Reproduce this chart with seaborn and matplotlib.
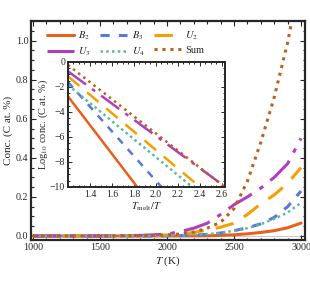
import matplotlib
matplotlib.use("Agg")
import matplotlib.pyplot as plt
from matplotlib.ticker import MultipleLocator
import seaborn as sns
import pandas as pd

# main panel: concentration (C at. %) read at these temperatures
temps = [1000, 1500, 1800, 1900, 2000, 2100, 2200, 2300, 2400, 2500, 2600, 2700, 2800, 2900, 3000]
conc_b2 = [0, 0, 0, 0, 0, 0.0002, 0.0005, 0.001, 0.003, 0.006, 0.011, 0.018, 0.027, 0.042, 0.066]
conc_b3 = [0, 0, 0, 0.0005, 0.001, 0.002, 0.004, 0.008, 0.015, 0.027, 0.042, 0.062, 0.095, 0.15, 0.23]
conc_u2 = [0, 0, 0.001, 0.003, 0.005, 0.01, 0.018, 0.03, 0.045, 0.065, 0.11, 0.165, 0.21, 0.27, 0.35]
conc_u3 = [0, 0, 0.003, 0.006, 0.01, 0.022, 0.04, 0.065, 0.11, 0.16, 0.2, 0.245, 0.3, 0.37, 0.5]
conc_u4 = [0, 0, 0.0005, 0.001, 0.002, 0.004, 0.006, 0.009, 0.016, 0.026, 0.04, 0.06, 0.088, 0.12, 0.17]
conc_sum = [0, 0, 0.002, 0.003, 0.005, 0.01, 0.02, 0.04, 0.07, 0.14, 0.28, 0.48, 0.71, 0.99, 1.35]

# inset: log10 conc vs Tmelt/T, straight lines given by their end points
inset_b2 = ([1.2, 1.83], [-2.75, -10])
inset_b3 = ([1.2, 2.05], [-1.6, -10])
inset_u2 = ([1.2, 2.4], [-1.15, -10])
inset_u3 = ([1.2, 2.6], [-0.75, -9.8])
inset_u4 = ([1.2, 2.33], [-1.85, -10])
inset_sum = ([1.2, 2.625], [-0.25, -10])

names = ["$B_2$", "$B_3$", "$U_2$", "$U_3$", "$U_4$", "Sum"]
colors = ["#e8601c", "#5a78d6", "#f5a000", "#b03fc0", "#5cb8a0", "#b8621a"]
styles = ["-", (0, (3, 3)), (0, (6, 4)), (0, (9, 3, 1.5, 3)), (0, (1, 1.3)), (0, (1, 1.6))]

sns.set_style("ticks")
plt.rcParams["font.family"] = ["Liberation Serif", "DejaVu Serif"]
plt.rcParams["mathtext.fontset"] = "stix"
plt.rcParams["xtick.direction"] = "in"
plt.rcParams["ytick.direction"] = "in"

fig = plt.figure(figsize=(3.1, 2.89), dpi=100)
ax = fig.add_axes([0.1, 0.170, 0.884, 0.757])

main_series = [conc_b2, conc_b3, conc_u2, conc_u3, conc_u4, conc_sum]
ax.axhline(0, color="#cccccc", lw=0.8, zorder=0)
for vals, name, col, ls in zip(main_series, names, colors, styles):
    df = pd.DataFrame({"T": temps, "c": vals})
    lw = 2.2 if name != "$U_4$" else 1.8
    sns.lineplot(data=df, x="T", y="c", ax=ax, color=col, linestyle=ls, lw=lw, label=name)

ax.set_xlim(985, 3030)
ax.set_ylim(-0.02, 1.1)
ax.xaxis.set_major_locator(MultipleLocator(500))
ax.xaxis.set_minor_locator(MultipleLocator(100))
ax.yaxis.set_major_locator(MultipleLocator(0.2))
ax.yaxis.set_minor_locator(MultipleLocator(0.05))
ax.yaxis.set_major_formatter(plt.FuncFormatter(lambda v, p: f"{v:.1f}"))
ax.tick_params(which="both", top=True, right=True, labelsize=7.2, pad=2, width=0.8)
ax.tick_params(which="major", length=3.5)
ax.tick_params(which="minor", length=1.8)
for s in ax.spines.values():
    s.set_linewidth(1.6)
ax.set_xlabel("$T$ (K)", fontsize=8, labelpad=2)
ax.set_ylabel("Conc. (C at. %)", fontsize=8, labelpad=2)

# reorder so the legend reads row by row: B2 B3 U2 / U3 U4 Sum
handles, labels = ax.get_legend_handles_labels()
order = [0, 3, 1, 4, 2, 5]
ax.legend([handles[i] for i in order], [labels[i] for i in order],
          ncol=3, loc="upper left", bbox_to_anchor=(0.04, 0.985), frameon=False,
          fontsize=7.5, handlelength=2.6, handletextpad=0.4, columnspacing=0.9,
          labelspacing=0.3, borderaxespad=0.1)

# inset
ins = fig.add_axes([0.219, 0.353, 0.506, 0.433])
inset_series = [inset_b2, inset_b3, inset_u2, inset_u3, inset_u4, inset_sum]
for (xs, ys), col, ls in zip(inset_series, colors, styles):
    sns.lineplot(x=xs, y=ys, ax=ins, color=col, linestyle=ls, lw=1.8)
ins.set_xlim(1.2, 2.625)
ins.set_ylim(-10, 0)
ins.xaxis.set_minor_locator(MultipleLocator(0.05))
ins.yaxis.set_major_locator(MultipleLocator(2))
ins.yaxis.set_minor_locator(MultipleLocator(0.5))
ins.set_xticks([1.4, 1.6, 1.8, 2.0, 2.2, 2.4, 2.6])
ins.set_xticklabels(["1.4", "1.6", "1.8", "2.0", "2.2", "2.4", "2.6"])
ins.yaxis.set_major_formatter(plt.FuncFormatter(lambda v, p: f"{v:.0f}".replace("-", "\u2212")))
ins.tick_params(which="both", top=True, right=True, labelsize=7, pad=2, width=0.7)
ins.tick_params(which="major", length=3)
ins.tick_params(which="minor", length=1.5)
for s in ins.spines.values():
    s.set_linewidth(1.4)
ins.set_xlabel("$T_\\mathrm{melt}/T$", fontsize=7.5, labelpad=1)
ins.set_ylabel("Log$_{10}$ conc. (C at. %)", fontsize=7.5, labelpad=0)

fig.savefig("out.png", dpi=100)
